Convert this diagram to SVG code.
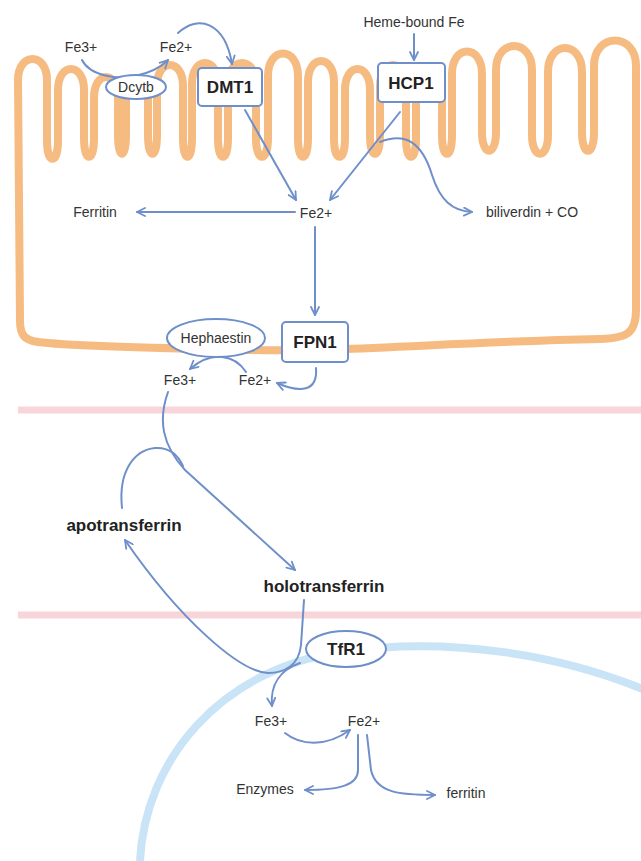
<svg xmlns="http://www.w3.org/2000/svg" width="641" height="861" viewBox="0 0 641 861">
<defs>
<marker id="a" viewBox="0 0 10 10" refX="9" refY="5" markerWidth="10" markerHeight="10" markerUnits="userSpaceOnUse" orient="auto">
<path d="M1,1 L9,5 L1,9" fill="none" stroke="#6f8fcb" stroke-width="1.8" stroke-linecap="round" stroke-linejoin="round"/>
</marker>
</defs>
<style>
.t{font-family:"Liberation Sans",Arial,sans-serif;font-size:14px;fill:#333;text-anchor:middle}
.b{font-family:"Liberation Sans",Arial,sans-serif;font-size:17px;font-weight:bold;fill:#222;text-anchor:middle}
.c{fill:none;stroke:#6f8fcb;stroke-width:2;stroke-linecap:round}
.n{fill:#fff;stroke:#6f8fcb;stroke-width:2}
</style>
<rect width="641" height="861" fill="#fff"/>
<g id="background">
<line x1="18" y1="410" x2="641" y2="410" stroke="#f8d5d8" stroke-width="7"/>
<line x1="18" y1="615" x2="641" y2="615" stroke="#f8d5d8" stroke-width="7"/>
<path d="M140,861 C145,760 220,670 340,652 C450,636 560,655 645,690" fill="none" stroke="#c8e4f6" stroke-width="8"/>
<path d="M20,320 L18,80 C18,52 47,52 47,80 L47,140 C47,165 58,165 58,140 L58,90 C58,62 84,62 84,90 L84,138 C84,163 94,163 94,138 L94,98 C94,70 118,70 118,98 L118,135 C118,160 126,160 126,135 L126,100 C126,72 148,72 148,100 L148,135 C148,160 157,160 157,135 L157,86 C157,58 183,58 183,86 L183,138 C183,163 192,163 192,138 L192,84 C192,56 218,56 218,84 L218,138 C218,163 228,163 228,138 L228,84 C228,56 256,56 256,84 L256,138 C256,163 268,163 268,138 L268,76 C268,46 298,46 298,76 L298,138 C298,163 308,163 308,138 L308,82 C308,54 334,54 334,82 L334,138 C334,163 345,163 345,138 L345,90 C345,62 370,62 370,90 L370,135 C370,160 380,160 380,135 L380,86 C380,58 406,58 406,86 L406,138 C406,163 416,163 416,138 L416,88 C416,60 442,60 442,88 L442,135 C442,160 452,160 452,135 L452,74 C452,44 482,44 482,74 L482,132 C482,157 496,157 496,132 L496,70 C496,38 532,38 532,70 L532,135 C532,160 548,160 548,135 L548,72 C548,40 582,40 582,72 L582,132 C582,157 594,157 594,132 L594,66 C594,32 636,32 636,66 L636,310 C636,335 625,338 600,339 C450,342 350,352 250,350 C150,348 60,345 38,342 C24,340 20,335 20,320 Z" fill="none" stroke="#f6bb80" stroke-width="8" stroke-linejoin="round"/>
</g>
<g id="connectors">
<path class="c" marker-end="url(#a)" d="M82,60 C90,76 118,80 135,76 C150,73 160,68 168,60"/>
<path class="c" marker-end="url(#a)" d="M178,33 C198,14 225,22 232,64"/>
<path class="c" marker-end="url(#a)" d="M414,34 L414,60"/>
<path class="c" marker-end="url(#a)" d="M245,110 L296,200"/>
<path class="c" marker-end="url(#a)" d="M400,112 L330,200"/>
<path class="c" marker-end="url(#a)" d="M380,142 C405,132 422,142 432,175 C440,200 452,211 472,212"/>
<path class="c" marker-end="url(#a)" d="M295,212 L137,212"/>
<path class="c" marker-end="url(#a)" d="M315,227 L315,315"/>
<path class="c" marker-end="url(#a)" d="M316,368 C318,392 300,393 277,383"/>
<path class="c" marker-end="url(#a)" d="M246,372 C235,355 212,350 190,369"/>
<path class="c" marker-end="url(#a)" d="M168,392 C158,420 162,445 185,470 L295,570"/>
<path class="c" d="M122,508 C118,470 135,450 155,448 C170,447 178,455 183,466"/>
<path class="c" marker-end="url(#a)" d="M304,600 L301,645 C299,665 285,673 268,673 C240,672 180,620 125,540"/>
<path class="c" marker-end="url(#a)" d="M300,663 C280,670 270,685 272,706"/>
<path class="c" marker-end="url(#a)" d="M285,733 C300,745 325,748 350,730"/>
<path class="c" marker-end="url(#a)" d="M358,735 L358,770 C358,785 340,790 305,790"/>
<path class="c" marker-end="url(#a)" d="M367,735 L371,770 C376,793 400,795 435,795"/>
</g>
<g id="dcytb"><ellipse class="n" cx="136" cy="87" rx="30" ry="12"/><text class="t" x="136" y="92">Dcytb</text></g>
<g id="dmt1"><rect class="n" x="198" y="68" width="64" height="38" rx="4"/><text class="b" x="230" y="93">DMT1</text></g>
<g id="hcp1"><rect class="n" x="378" y="63" width="67" height="39" rx="4"/><text class="b" x="411" y="89">HCP1</text></g>
<g id="hephaestin"><ellipse class="n" cx="216" cy="338" rx="49" ry="19"/><text class="t" x="216" y="343">Hephaestin</text></g>
<g id="fpn1"><rect class="n" x="282" y="322" width="66" height="40" rx="4"/><text class="b" x="315" y="348">FPN1</text></g>
<g id="tfr1"><ellipse class="n" cx="346" cy="649" rx="40" ry="18"/><text class="b" x="346" y="655">TfR1</text></g>
<g id="labels">
<text class="t" x="81" y="52">Fe3+</text>
<text class="t" x="176" y="52">Fe2+</text>
<text class="t" x="414" y="27">Heme-bound Fe</text>
<text class="t" x="95" y="217">Ferritin</text>
<text class="t" x="316" y="218">Fe2+</text>
<text class="t" x="532" y="217">biliverdin + CO</text>
<text class="t" x="180" y="385">Fe3+</text>
<text class="t" x="255" y="385">Fe2+</text>
<text class="b" x="124" y="531">apotransferrin</text>
<text class="b" x="324" y="592">holotransferrin</text>
<text class="t" x="271" y="726">Fe3+</text>
<text class="t" x="364" y="726">Fe2+</text>
<text class="t" x="265" y="794">Enzymes</text>
<text class="t" x="466" y="798">ferritin</text>
</g>
</svg>
